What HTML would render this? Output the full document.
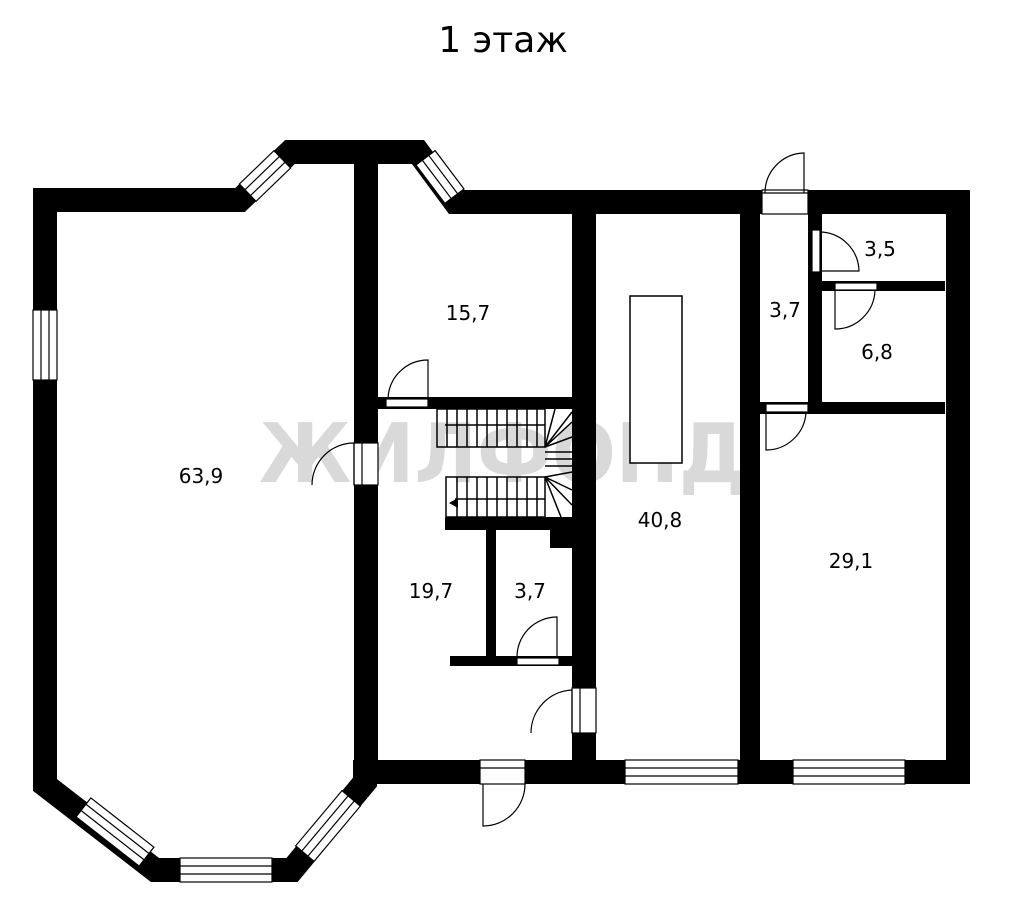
<!DOCTYPE html>
<html><head><meta charset="utf-8"><style>
html,body{margin:0;padding:0;background:#fff;}
svg{display:block}
text{font-family:"DejaVu Sans","Liberation Sans",sans-serif;}
</style></head><body>
<svg width="1012" height="921" viewBox="0 0 1012 921" xmlns="http://www.w3.org/2000/svg">
<rect width="1012" height="921" fill="#fff"/>
<text x="503" y="52" font-size="36" text-anchor="middle" fill="#000">1 этаж</text>
<text x="259" y="482" font-size="82" font-weight="bold" fill="#d9d9d9" textLength="487" lengthAdjust="spacingAndGlyphs">ЖИЛФОНД</text>

<!-- outer walls -->
<path d="M45,200 L45,785 L155,870 L292,870 L365,782 L365,772 L958,772 L958,202 L455,202 L418,152 L290,152 L240,200 Z" fill="none" stroke="#000" stroke-width="24" stroke-linejoin="miter"/>
<!-- interior walls -->
<g fill="#000">
<rect x="354" y="152" width="24" height="620"/>
<rect x="572" y="202" width="24" height="570"/>
<rect x="740" y="202" width="20" height="570"/>
<rect x="808" y="214" width="14" height="196"/>
<rect x="808" y="281" width="137" height="10"/>
<rect x="760" y="402" width="185" height="12"/>
<rect x="378" y="397" width="194" height="12"/>
<rect x="445" y="517" width="127" height="13"/>
<rect x="550" y="528" width="22" height="20"/>
<rect x="486" y="528" width="10" height="132"/>
<rect x="450" y="656" width="122" height="10"/>
</g>
<!-- stairs -->
<g stroke="#000" stroke-width="1.5" fill="none">
<rect x="437" y="409" width="108" height="38"/>
<rect x="446" y="477" width="99" height="40"/>
<line x1="445" y1="425" x2="545" y2="425"/>
<line x1="455" y1="499" x2="545" y2="499"/>
<path d="M447,409v38M457,409v38M467,409v38M477,409v38M487,409v38M497,409v38M507,409v38M517,409v38M527,409v38M537,409v38"/>
<path d="M457,477v40M467,477v40M477,477v40M487,477v40M497,477v40M507,477v40M517,477v40M527,477v40M537,477v40"/>
<path d="M545,447 L572,412 M545,447 L572,422 M545,447 L572,437 M545,452 L572,452 M545,459 L572,459 M545,466 L572,466 M545,477 L572,472 M545,477 L572,490 M545,477 L572,505 M545,477 L561,517 M545,447 L555,409"/>
</g>
<path d="M449,503 L458,498 L458,508 Z" fill="#000"/>
<!-- island -->
<rect x="630" y="296" width="52" height="167" fill="#fff" stroke="#000" stroke-width="1.5"/>

<!-- windows -->
<g fill="#fff" stroke="#000" stroke-width="1.2">
<rect x="33" y="310" width="24" height="70"/><line x1="41" y1="310" x2="41" y2="380"/><line x1="49" y1="310" x2="49" y2="380"/>
<rect x="625" y="760" width="113" height="24"/><line x1="625" y1="768" x2="738" y2="768"/><line x1="625" y1="776" x2="738" y2="776"/>
<rect x="793" y="760" width="112" height="24"/><line x1="793" y1="768" x2="905" y2="768"/><line x1="793" y1="776" x2="905" y2="776"/>
<rect x="180" y="858" width="92" height="24"/><line x1="180" y1="866" x2="272" y2="866"/><line x1="180" y1="874" x2="272" y2="874"/>
<g transform="translate(265,176) rotate(-44)"><rect x="-24" y="-12" width="48" height="24"/><line x1="-24" y1="-4" x2="24" y2="-4"/><line x1="-24" y1="4" x2="24" y2="4"/></g>
<g transform="translate(440,177) rotate(53)"><rect x="-24" y="-12" width="48" height="24"/><line x1="-24" y1="-4" x2="24" y2="-4"/><line x1="-24" y1="4" x2="24" y2="4"/></g>
<g transform="translate(115,832) rotate(38)"><rect x="-40" y="-12" width="80" height="24"/><line x1="-40" y1="-4" x2="40" y2="-4"/><line x1="-40" y1="4" x2="40" y2="4"/></g>
<g transform="translate(328,826) rotate(-50)"><rect x="-36" y="-12" width="72" height="24"/><line x1="-36" y1="-4" x2="36" y2="-4"/><line x1="-36" y1="4" x2="36" y2="4"/></g>
</g>

<!-- doors -->
<g fill="#fff" stroke="#000" stroke-width="1.2">
<rect x="354" y="443" width="24" height="42"/><line x1="362" y1="443" x2="362" y2="485"/>
<path d="M354,443 L354,485 M354,443 A42,42 0 0 0 312,485" fill="none"/>
<rect x="386" y="399" width="42" height="8"/>
<path d="M428,399 L428,360 A40,40 0 0 0 388,399" fill="none"/>
<rect x="517" y="658" width="42" height="7"/>
<path d="M557,658 L557,617 A40,40 0 0 0 517,658" fill="none"/>
<rect x="572" y="688" width="24" height="45"/><line x1="580" y1="688" x2="580" y2="733"/>
<path d="M572,733 L572,690 A43,43 0 0 0 531,733" fill="none"/>
<rect x="480" y="760" width="45" height="24"/><line x1="480" y1="768" x2="525" y2="768"/>
<path d="M483,784 L483,826 A42,42 0 0 0 525,784" fill="none"/>
<rect x="762" y="190" width="46" height="24"/><line x1="762" y1="193" x2="808" y2="193"/>
<path d="M804,193 L804,153 A40,40 0 0 0 765,193" fill="none"/>
<rect x="766" y="404" width="42" height="8"/>
<path d="M766,412 L766,450 A40,40 0 0 0 806,412" fill="none"/>
<rect x="812" y="230" width="8" height="42"/>
<path d="M822,271 L859,271 A40,40 0 0 0 822,232" fill="none"/>
<rect x="835" y="283" width="42" height="7"/>
<path d="M835,290 L835,329 A40,40 0 0 0 875,290" fill="none"/>
</g>

<!-- labels -->
<g font-size="20" fill="#000" text-anchor="middle">
<text x="201" y="483">63,9</text>
<text x="468" y="320">15,7</text>
<text x="431" y="598">19,7</text>
<text x="530" y="598">3,7</text>
<text x="660" y="527">40,8</text>
<text x="851" y="568">29,1</text>
<text x="785" y="317">3,7</text>
<text x="880" y="256">3,5</text>
<text x="877" y="359">6,8</text>
</g>
</svg>
</body></html>
